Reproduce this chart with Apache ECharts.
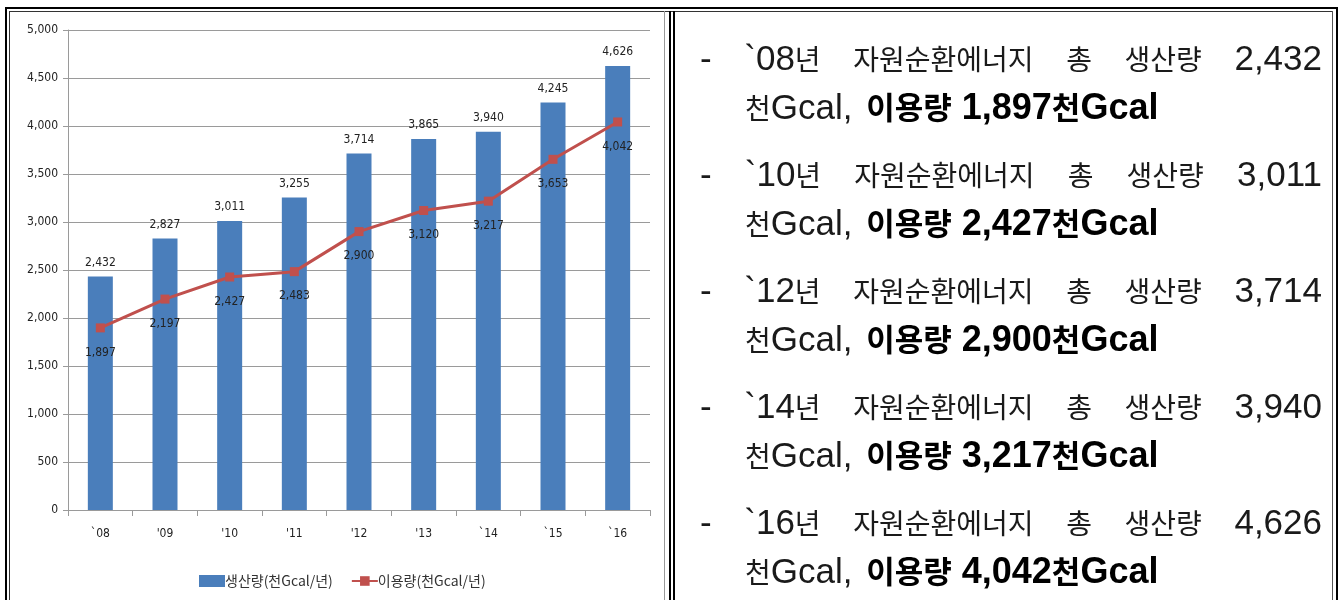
<!DOCTYPE html>
<html><head><meta charset="utf-8">
<script src="https://cdn.jsdelivr.net/npm/echarts@6/dist/echarts.min.js"></script>
<style>
html,body{margin:0;padding:0;background:#fff;}
#page{position:relative;width:1339px;height:600px;overflow:hidden;background:#fff;}
.ln{position:absolute;background:#000;}
#chart{position:absolute;left:12px;top:14px;width:652px;height:586px;}
#notes{position:absolute;left:0;top:0;width:1339px;height:600px;}
.row1,.row2{position:absolute;white-space:nowrap;line-height:34px;height:34px;color:#1a1a1a;
  font-family:"Liberation Sans",Arial,sans-serif;font-size:35px;}
.row1{left:700px;width:622px;text-align:justify;text-align-last:justify;}
.row2{left:745px;}
.k{font-family:"Noto Sans CJK KR",sans-serif;font-size:28px;}
.b{font-weight:bold;color:#000;font-size:36px;margin-left:4px;}
.b .k{font-size:31px;}
</style></head>
<body><div id="page">
  <!-- double outer frame -->
  <div class="ln" style="left:5px;top:7px;width:1332px;height:2px"></div>
  <div class="ln" style="left:9px;top:11px;width:1324px;height:1px;background:#333"></div>
  <div class="ln" style="left:5px;top:7px;width:2px;height:593px"></div>
  <div class="ln" style="left:9px;top:11px;width:1px;height:589px;background:#333"></div>
  <div class="ln" style="left:1336px;top:7px;width:2px;height:593px"></div>
  <div class="ln" style="left:1332px;top:11px;width:1px;height:589px;background:#555"></div>
  <!-- divider between the two cells -->
  <div class="ln" style="left:669px;top:11px;width:2px;height:589px"></div>
  <div class="ln" style="left:673px;top:11px;width:2px;height:589px"></div>
  <div class="ln" style="left:664px;top:11px;width:1px;height:589px;background:#999"></div>
  <div id="chart"></div>
  <div id="notes"></div>
</div>
<script>
// Categories (years) and series values, in 천Gcal/년
const years = ["`08", "'09", "'10", "'11", "'12", "'13", "`14", "`15", "`16"];
const production = [2432, 2827, 3011, 3255, 3714, 3865, 3940, 4245, 4626];
const usage = [1897, 2197, 2427, 2483, 2900, 3120, 3217, 3653, 4042];
const yTicks = [0, 500, 1000, 1500, 2000, 2500, 3000, 3500, 4000, 4500, 5000];
const seriesNames = ["생산량(천Gcal/년)", "이용량(천Gcal/년)"];
const noteYears = ["08", "10", "12", "14", "16"];
const noteIdx = [0, 2, 4, 6, 8];

const fmt = v => v.toLocaleString('en-US');
const numFont = '"Liberation Sans Narrow","DejaVu Sans Condensed","Liberation Sans",sans-serif';
const krFont = '"Noto Sans CJK KR",sans-serif';

const chart = echarts.init(document.getElementById('chart'));
chart.setOption({
  animation: false,
  grid: {left: 56, top: 16, width: 582, height: 480, containLabel: false},
  xAxis: {
    type: 'category', data: years,
    axisLine: {lineStyle: {color: '#9a9a9a', width: 1}},
    axisTick: {show: true, length: 6, lineStyle: {color: '#9a9a9a'}},
    axisLabel: {margin: 18, fontSize: 12, color: '#222', fontFamily: numFont}
  },
  yAxis: {
    type: 'value', min: yTicks[0], max: yTicks[yTicks.length - 1], interval: 500,
    axisLine: {show: true, lineStyle: {color: '#9a9a9a'}},
    axisTick: {show: true, length: 5, lineStyle: {color: '#9a9a9a'}},
    splitLine: {lineStyle: {color: '#9a9a9a', width: 1}},
    axisLabel: {margin: 10, fontSize: 12, color: '#222', fontFamily: numFont, formatter: v => fmt(v)}
  },
  legend: {
    bottom: 7, left: 182, itemGap: 18, itemWidth: 26, itemHeight: 12,
    textStyle: {fontSize: 14, color: '#333', fontFamily: krFont, padding: [0, 0, 0, -5]},
    data: [{name: seriesNames[0], icon: 'rect'}, {name: seriesNames[1]}]
  },
  series: [
    {
      name: seriesNames[0], type: 'bar', data: production, barWidth: 25,
      itemStyle: {color: '#4a7ebb'},
      label: {show: true, position: 'top', distance: 8, fontSize: 12, color: '#222', fontFamily: numFont, formatter: p => fmt(p.value)}
    },
    {
      name: seriesNames[1], type: 'line', data: usage,
      lineStyle: {color: '#c0504d', width: 3},
      itemStyle: {color: '#c0504d'},
      symbol: 'rect', symbolSize: 9,
      label: {show: true, position: 'bottom', distance: 14, fontSize: 12, color: '#222', fontFamily: numFont, formatter: p => fmt(p.value)}
    }
  ]
});

// Wrap Hangul runs so they get their own size next to Latin text and digits
const esc = s => s.replace(/&/g, '&amp;').replace(/</g, '&lt;');
const runs = s => esc(s).replace(/([\uAC00-\uD7AF]+)/g, '<span class="k">$1</span>');

// Summary text beside the chart
const notes = document.getElementById('notes');
const rowTops = [41, 157, 273, 389, 505];
noteIdx.forEach((idx, k) => {
  const r1 = document.createElement('div');
  r1.className = 'row1';
  r1.style.top = rowTops[k] + 'px';
  r1.innerHTML = runs(`- \`${noteYears[k]}년 자원순환에너지 총 생산량 ${fmt(production[idx])}`);
  const r2 = document.createElement('div');
  r2.className = 'row2';
  r2.style.top = (rowTops[k] + 48) + 'px';
  r2.innerHTML = runs('천Gcal, ') + '<span class="b">' + runs(`이용량 ${fmt(usage[idx])}천Gcal`) + '</span>';
  notes.appendChild(r1);
  notes.appendChild(r2);
});
</script>
</body></html>
